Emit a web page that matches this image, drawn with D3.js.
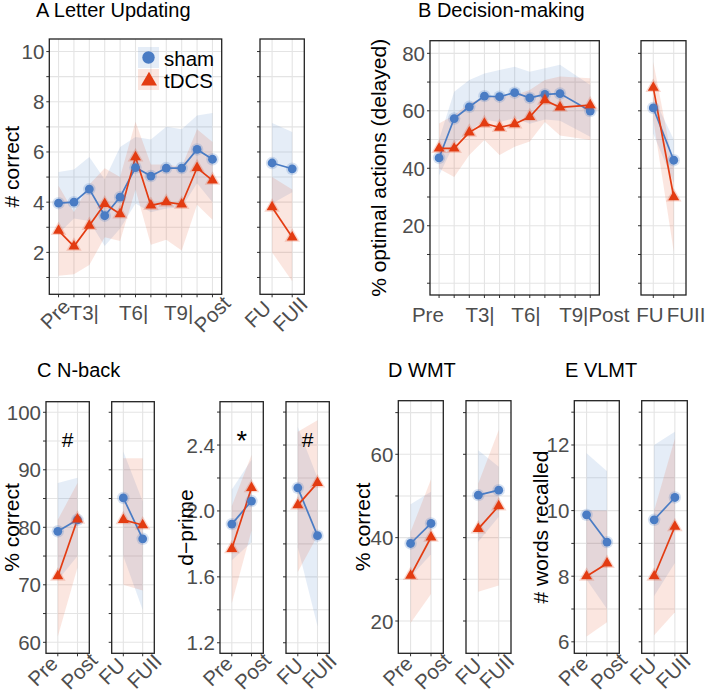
<!DOCTYPE html>
<html lang="en">
<head>
<meta charset="UTF-8">
<title>tDCS training outcomes</title>
<style>
  body, html { margin: 0; padding: 0; background: #fff; }
  svg { display: block; font-family: "Liberation Sans", Arial, sans-serif; }
  .grid line { stroke: #e4e4e4; stroke-width: 1.1px; }
  .frame { fill: none; stroke: #222; stroke-width: 1.3px; }
  .tick-mark { stroke: #333; stroke-width: 1px; }
  .tick-label { fill: #4d4d4d; font-size: 20.5px; }
  .axis-title { fill: #000; font-size: 21px; }
  .panel-title { fill: #000; font-size: 20px; }
  .sig { fill: #000; font-size: 21px; }
  .legend-text { fill: #000; font-size: 20.5px; }
</style>
</head>
<body>
<svg width="708" height="693"></svg>
<script src="https://d3js.org/d3.v7.min.js"></script>
<script>
// ---- categories ----
const trainCats = ["Pre", "T1", "T2", "T3", "T4", "T5", "T6", "T7", "T8", "T9", "Post"];
const prePostCats = ["Pre", "Post"];
const fuCats = ["FU", "FUII"];

// ---- A Letter Updating (# correct) ----
const letterSham   = [3.96, 4.00, 4.52, 3.46, 4.20, 5.38, 5.04, 5.36, 5.36, 6.10, 5.71];
const letterShamLo = [2.75, 3.35, 3.25, 2.25, 2.95, 3.95, 3.60, 3.75, 3.80, 4.75, 4.00];
const letterShamHi = [5.20, 5.30, 5.80, 4.90, 6.20, 6.60, 6.50, 7.00, 6.90, 7.45, 7.55];
const letterTdcs   = [2.87, 2.24, 3.07, 3.93, 3.53, 5.80, 3.87, 4.00, 3.91, 5.37, 4.87];
const letterTdcsLo = [1.07, 1.13, 1.50, 2.60, 2.45, 4.50, 2.30, 2.50, 2.07, 3.90, 3.30];
const letterTdcsHi = [4.65, 3.60, 4.70, 5.35, 5.00, 7.20, 5.50, 5.50, 5.40, 6.90, 6.40];
const letterFuSham   = [5.56, 5.33];
const letterFuShamLo = [3.95, 4.40];
const letterFuShamHi = [7.15, 6.80];
const letterFuTdcs   = [3.80, 2.60];
const letterFuTdcsLo = [2.00, 0.85];
const letterFuTdcsHi = [5.00, 4.50];

// ---- B Decision-making (% optimal actions, delayed); no value at T9 ----
const decSham   = [43.6, 57.3, 61.4, 65.1, 64.9, 66.3, 64.5, 65.7, 66.0, null, 59.9];
const decShamLo = [37.5, 48.5, 52.5, 57.0, 56.0, 57.5, 55.5, 57.0, 56.5, null, 51.0];
const decShamHi = [50.0, 66.6, 70.7, 73.0, 74.2, 75.3, 73.6, 74.8, 76.0, null, 69.0];
const decTdcs   = [46.9, 46.9, 52.5, 55.6, 54.2, 55.4, 57.9, 63.7, 61.2, null, 62.0];
const decTdcsLo = [39.8, 37.0, 44.6, 49.8, 44.6, 47.5, 49.3, 56.1, 51.4, null, 49.8];
const decTdcsHi = [55.6, 58.5, 62.6, 64.9, 64.9, 65.5, 67.2, 70.7, 71.9, null, 71.3];
const decFuSham   = [61.0, 42.8];
const decFuShamLo = [52.0, 35.0];
const decFuShamHi = [65.0, 50.0];
const decFuTdcs   = [68.1, 30.0];
const decFuTdcsLo = [57.0, 11.0];
const decFuTdcsHi = [77.0, 40.0];

// ---- C N-back: % correct ----
const nbAccSham   = [79.3, 81.3];
const nbAccShamLo = [70.8, 75.0];
const nbAccShamHi = [87.7, 88.6];
const nbAccTdcs   = [71.5, 81.4];
const nbAccTdcsLo = [61.0, 73.0];
const nbAccTdcsHi = [81.3, 87.7];
const nbAccFuSham   = [85.1, 78.0];
const nbAccFuShamLo = [75.0, 65.6];
const nbAccFuShamHi = [93.2, 84.5];
const nbAccFuTdcs   = [81.3, 80.4];
const nbAccFuTdcsLo = [70.0, 69.0];
const nbAccFuTdcsHi = [92.0, 92.0];

// ---- C N-back: d-prime ----
const nbDpSham   = [1.92, 2.06];
const nbDpShamLo = [1.70, 1.81];
const nbDpShamHi = [2.13, 2.31];
const nbDpTdcs   = [1.77, 2.14];
const nbDpTdcsLo = [1.44, 1.88];
const nbDpTdcsHi = [2.03, 2.34];
const nbDpFuSham   = [2.14, 1.85];
const nbDpFuShamLo = [1.78, 1.30];
const nbDpFuShamHi = [2.51, 2.20];
const nbDpFuTdcs   = [2.035, 2.17];
const nbDpFuTdcsLo = [1.63, 1.85];
const nbDpFuTdcsHi = [2.48, 2.55];

// ---- D WMT (% correct) ----
const wmtSham   = [38.6, 43.4];
const wmtShamLo = [30.6, 36.0];
const wmtShamHi = [48.0, 51.0];
const wmtTdcs   = [30.9, 40.1];
const wmtTdcsLo = [19.5, 26.5];
const wmtTdcsHi = [41.4, 54.0];
const wmtFuSham   = [50.2, 51.4];
const wmtFuShamLo = [39.0, 45.0];
const wmtFuShamHi = [61.0, 57.0];
const wmtFuTdcs   = [42.1, 47.6];
const wmtFuTdcsLo = [27.0, 28.5];
const wmtFuTdcsHi = [53.0, 65.8];

// ---- E VLMT (# words recalled) ----
const vlmtSham   = [9.87, 9.04];
const vlmtShamLo = [7.90, 7.00];
const vlmtShamHi = [11.75, 11.20];
const vlmtTdcs   = [8.00, 8.39];
const vlmtTdcsLo = [6.16, 6.60];
const vlmtTdcsHi = [10.00, 10.00];
const vlmtFuSham   = [9.72, 10.40];
const vlmtFuShamLo = [7.40, 8.40];
const vlmtFuShamHi = [12.00, 12.40];
const vlmtFuTdcs   = [8.00, 9.51];
const vlmtFuTdcsLo = [6.20, 6.90];
const vlmtFuTdcsHi = [10.00, 12.20];

// ---- y ticks (labelled) and grid lines ----
const letterTicks = [2, 4, 6, 8, 10];
const letterGrid  = [1, 2, 3, 4, 5, 6, 7, 8, 9, 10];
const decTicks = [20, 40, 60, 80];
const decGrid  = [0, 10, 20, 30, 40, 50, 60, 70, 80];
const accTicks = [60, 70, 80, 90, 100];
const accGrid  = [60, 65, 70, 75, 80, 85, 90, 95, 100];
const dpTicks = [1.2, 1.6, 2.0, 2.4];
const dpGrid  = [1.2, 1.4, 1.6, 1.8, 2.0, 2.2, 2.4, 2.6];
const wmtTicks = [20, 40, 60];
const wmtGrid  = [20, 30, 40, 50, 60, 70];
const vlmtTicks = [6, 8, 10, 12];
const vlmtGrid  = [6, 7, 8, 9, 10, 11, 12, 13];

const seriesNames = ["sham", "tDCS"];
const colors = { sham: "#4a7cc4", tDCS: "#e33c12" };
const ribbonFill = { sham: "rgba(74,124,196,0.14)", tDCS: "rgba(227,60,18,0.13)" };

const svg = d3.select("svg");
const defs = svg.append("defs");
let clipId = 0;

function series(m, lo, hi) { return { m, lo, hi }; }

function drawPanel(p) {
  const x = d3.scalePoint().domain(p.cats).range([p.x0, p.x1]).padding(0.6);
  const y = d3.scaleLinear().domain(p.yDomain).range([p.y1, p.y0]);
  const g = svg.append("g");

  const cid = "clip" + (clipId++);
  defs.append("clipPath").attr("id", cid).append("rect")
    .attr("x", p.x0).attr("y", p.y0).attr("width", p.x1 - p.x0).attr("height", p.y1 - p.y0);

  // grid
  const grid = g.append("g").attr("class", "grid");
  grid.selectAll("line.h").data(p.grid).join("line").attr("class", "h")
    .attr("x1", p.x0).attr("x2", p.x1)
    .attr("y1", d => y(d)).attr("y2", d => y(d));
  grid.selectAll("line.v").data(p.cats).join("line").attr("class", "v")
    .attr("x1", d => x(d)).attr("x2", d => x(d))
    .attr("y1", p.y0).attr("y2", p.y1);

  // tick marks
  g.selectAll("line.yt").data(p.grid).join("line").attr("class", "tick-mark")
    .attr("x1", p.x0 - 3).attr("x2", p.x0)
    .attr("y1", d => y(d)).attr("y2", d => y(d));
  g.selectAll("line.xt").data(p.cats).join("line").attr("class", "tick-mark")
    .attr("x1", d => x(d)).attr("x2", d => x(d))
    .attr("y1", p.y1).attr("y2", p.y1 + 3);

  // y labels
  if (p.ticks) {
    g.selectAll("text.yl").data(p.ticks).join("text").attr("class", "tick-label")
      .attr("x", p.x0 - 5).attr("y", d => y(d))
      .attr("text-anchor", "end").attr("dominant-baseline", "central")
      .text(p.fmt);
  }

  // x labels (placed at fractional category positions)
  const x0pos = x(p.cats[0]), step = x.step();
  p.xlabels.forEach(l => {
    const cx = x0pos + l.at * step;
    const t = g.append("text").attr("class", "tick-label").text(l.t);
    if (l.rot) {
      t.attr("text-anchor", "middle").attr("dominant-baseline", "central")
        .attr("transform", `translate(${cx},${p.rotY}) rotate(-45)`);
    } else {
      t.attr("text-anchor", "middle").attr("x", cx).attr("y", p.flatY);
    }
  });

  const rows = seriesNames.map(name => {
    const s = p.data[name];
    return {
      name,
      pts: p.cats.map((c, i) => ({ c, m: s.m[i], lo: s.lo[i], hi: s.hi[i] }))
        .filter(d => d.m != null)
    };
  });

  const area = d3.area().x(d => x(d.c)).y0(d => y(d.lo)).y1(d => y(d.hi));
  const line = d3.line().x(d => x(d.c)).y(d => y(d.m));
  const inner = g.append("g").attr("clip-path", `url(#${cid})`);

  inner.selectAll("path.rib").data(rows).join("path")
    .attr("d", d => area(d.pts)).attr("fill", d => ribbonFill[d.name]);
  inner.selectAll("path.ln").data(rows).join("path")
    .attr("d", d => line(d.pts)).attr("fill", "none")
    .attr("stroke", d => colors[d.name]).attr("stroke-width", 1.7);

  rows.forEach(r => {
    const pg = inner.append("g");
    if (r.name === "sham") {
      pg.selectAll("circle.halo").data(r.pts).join("circle")
        .attr("cx", d => x(d.c)).attr("cy", d => y(d.m)).attr("r", 6.2)
        .attr("fill", colors.sham).attr("opacity", 0.22);
      pg.selectAll("circle.pt").data(r.pts).join("circle")
        .attr("cx", d => x(d.c)).attr("cy", d => y(d.m)).attr("r", 4.4)
        .attr("fill", colors.sham);
    } else {
      const big = d3.symbol(d3.symbolTriangle, 105)();
      const small = d3.symbol(d3.symbolTriangle, 52)();
      pg.selectAll("path.halo").data(r.pts).join("path")
        .attr("d", big).attr("transform", d => `translate(${x(d.c)},${y(d.m)})`)
        .attr("fill", colors.tDCS).attr("opacity", 0.2);
      pg.selectAll("path.pt").data(r.pts).join("path")
        .attr("d", small).attr("transform", d => `translate(${x(d.c)},${y(d.m)})`)
        .attr("fill", colors.tDCS);
    }
  });

  // significance marks
  (p.sig || []).forEach(s => {
    g.append("text").attr("class", "sig").attr("text-anchor", "middle")
      .style("font-size", s.size ? s.size + "px" : null)
      .attr("x", (x(p.cats[0]) + x(p.cats[1])) / 2).attr("y", y(s.v)).text(s.t);
  });

  g.append("rect").attr("class", "frame")
    .attr("x", p.x0).attr("y", p.y0).attr("width", p.x1 - p.x0).attr("height", p.y1 - p.y0);

  if (p.title) {
    g.append("text").attr("class", "axis-title")
      .attr("text-anchor", "middle").attr("dominant-baseline", "central")
      .attr("transform", `translate(${p.titleX},${(p.y0 + p.y1) / 2}) rotate(-90)`)
      .text(p.title);
  }
  return { x, y };
}

const fInt = d3.format("d"), f1 = d3.format(".1f");

// ---- A ----
drawPanel({
  cats: trainCats, x0: 49.3, x1: 221.7, y0: 39, y1: 294.3, yDomain: [0.33, 10.5],
  grid: letterGrid, ticks: letterTicks, fmt: fInt, title: "# correct", titleX: 11,
  data: { sham: series(letterSham, letterShamLo, letterShamHi), tDCS: series(letterTdcs, letterTdcsLo, letterTdcsHi) },
  rotY: 314, flatY: 320,
  xlabels: [{ t: "Pre", at: -0.23, rot: true }, { t: "T3|", at: 1.67 }, { t: "T6|", at: 4.88 },
            { t: "T9|", at: 7.8 }, { t: "Post", at: 9.97, rot: true }]
});
drawPanel({
  cats: fuCats, x0: 260, x1: 304.3, y0: 39, y1: 294.3, yDomain: [0.33, 10.5],
  grid: letterGrid,
  data: { sham: series(letterFuSham, letterFuShamLo, letterFuShamHi), tDCS: series(letterFuTdcs, letterFuTdcsLo, letterFuTdcsHi) },
  rotY: 314,
  xlabels: [{ t: "FU", at: -0.72, rot: true }, { t: "FUII", at: 0.89, rot: true }]
});

// ---- B ----
drawPanel({
  cats: trainCats, x0: 430, x1: 599.3, y0: 40.7, y1: 295, yDomain: [-4.1, 84.4],
  grid: decGrid, ticks: decTicks, fmt: fInt, title: "% optimal actions (delayed)", titleX: 378,
  data: { sham: series(decSham, decShamLo, decShamHi), tDCS: series(decTdcs, decTdcsLo, decTdcsHi) },
  flatY: 321.7,
  xlabels: [{ t: "Pre", at: -0.74 }, { t: "T3|", at: 2.71 }, { t: "T6|", at: 5.75 }, { t: "T9|Post", at: 10.27 }]
});
drawPanel({
  cats: fuCats, x0: 641, x1: 686, y0: 40.7, y1: 295, yDomain: [-4.1, 84.4],
  grid: decGrid,
  data: { sham: series(decFuSham, decFuShamLo, decFuShamHi), tDCS: series(decFuTdcs, decFuTdcsLo, decFuTdcsHi) },
  flatY: 321.7,
  xlabels: [{ t: "FU", at: -0.16 }, { t: "FUII", at: 1.6 }]
});

// ---- C ----
drawPanel({
  cats: prePostCats, x0: 46, x1: 89.3, y0: 401.7, y1: 653.3, yDomain: [58.09, 101.84],
  grid: accGrid, ticks: accTicks, fmt: fInt, title: "% correct", titleX: 11.5,
  data: { sham: series(nbAccSham, nbAccShamLo, nbAccShamHi), tDCS: series(nbAccTdcs, nbAccTdcsLo, nbAccTdcsHi) },
  rotY: 671, sig: [{ t: "#", v: 93.97 }],
  xlabels: [{ t: "Pre", at: -0.78, rot: true }, { t: "Post", at: 1.08, rot: true }]
});
drawPanel({
  cats: fuCats, x0: 111.7, x1: 154.3, y0: 401.7, y1: 653.3, yDomain: [58.09, 101.84],
  grid: accGrid,
  data: { sham: series(nbAccFuSham, nbAccFuShamLo, nbAccFuShamHi), tDCS: series(nbAccFuTdcs, nbAccFuTdcsLo, nbAccFuTdcsHi) },
  rotY: 671,
  xlabels: [{ t: "FU", at: -0.61, rot: true }, { t: "FUII", at: 1.07, rot: true }]
});
drawPanel({
  cats: prePostCats, x0: 220, x1: 263.3, y0: 401.7, y1: 653.3, yDomain: [1.136, 2.663],
  grid: dpGrid, ticks: dpTicks, fmt: f1, title: "d\u2212prime", titleX: 185,
  data: { sham: series(nbDpSham, nbDpShamLo, nbDpShamHi), tDCS: series(nbDpTdcs, nbDpTdcsLo, nbDpTdcsHi) },
  rotY: 671, sig: [{ t: "*", v: 2.368, size: 27 }],
  xlabels: [{ t: "Pre", at: -0.73, rot: true }, { t: "Post", at: 1.05, rot: true }]
});
drawPanel({
  cats: fuCats, x0: 286, x1: 329.3, y0: 401.7, y1: 653.3, yDomain: [1.136, 2.663],
  grid: dpGrid,
  data: { sham: series(nbDpFuSham, nbDpFuShamLo, nbDpFuShamHi), tDCS: series(nbDpFuTdcs, nbDpFuTdcsLo, nbDpFuTdcsHi) },
  rotY: 671, sig: [{ t: "#", v: 2.388 }],
  xlabels: [{ t: "FU", at: -0.42, rot: true }, { t: "FUII", at: 1.08, rot: true }]
});

// ---- D ----
drawPanel({
  cats: prePostCats, x0: 398.3, x1: 443.3, y0: 400.7, y1: 653.3, yDomain: [12.25, 72.86],
  grid: wmtGrid, ticks: wmtTicks, fmt: fInt, title: "% correct", titleX: 362,
  data: { sham: series(wmtSham, wmtShamLo, wmtShamHi), tDCS: series(wmtTdcs, wmtTdcsLo, wmtTdcsHi) },
  rotY: 671,
  xlabels: [{ t: "Pre", at: -0.64, rot: true }, { t: "Post", at: 1.07, rot: true }]
});
drawPanel({
  cats: fuCats, x0: 466, x1: 511, y0: 400.7, y1: 653.3, yDomain: [12.25, 72.86],
  grid: wmtGrid,
  data: { sham: series(wmtFuSham, wmtFuShamLo, wmtFuShamHi), tDCS: series(wmtFuTdcs, wmtFuTdcsLo, wmtFuTdcsHi) },
  rotY: 671,
  xlabels: [{ t: "FU", at: -0.5, rot: true }, { t: "FUII", at: 0.89, rot: true }]
});

// ---- E ----
drawPanel({
  cats: prePostCats, x0: 574.3, x1: 619.3, y0: 400.7, y1: 653.3, yDomain: [5.65, 13.35],
  grid: vlmtGrid, ticks: vlmtTicks, fmt: fInt, title: "# words recalled", titleX: 540,
  data: { sham: series(vlmtSham, vlmtShamLo, vlmtShamHi), tDCS: series(vlmtTdcs, vlmtTdcsLo, vlmtTdcsHi) },
  rotY: 671,
  xlabels: [{ t: "Pre", at: -0.66, rot: true }, { t: "Post", at: 1.07, rot: true }]
});
drawPanel({
  cats: fuCats, x0: 641.7, x1: 687.3, y0: 400.7, y1: 653.3, yDomain: [5.65, 13.35],
  grid: vlmtGrid,
  data: { sham: series(vlmtFuSham, vlmtFuShamLo, vlmtFuShamHi), tDCS: series(vlmtFuTdcs, vlmtFuTdcsLo, vlmtFuTdcsHi) },
  rotY: 671,
  xlabels: [{ t: "FU", at: -0.54, rot: true }, { t: "FUII", at: 0.91, rot: true }]
});

// ---- panel titles ----
const titles = [
  { t: "A Letter Updating", x: 36, y: 16.5 },
  { t: "B Decision-making", x: 418, y: 16.5 },
  { t: "C N-back", x: 37, y: 377 },
  { t: "D WMT", x: 388, y: 377 },
  { t: "E VLMT", x: 565, y: 377 }
];
svg.selectAll("text.panel-title").data(titles).join("text").attr("class", "panel-title")
  .attr("x", d => d.x).attr("y", d => d.y).text(d => d.t);

// ---- legend (inside panel A) ----
const leg = svg.append("g").attr("transform", "translate(138,47)");
seriesNames.forEach((name, i) => {
  const row = leg.append("g").attr("transform", `translate(0,${i * 22})`);
  row.append("rect").attr("width", 21).attr("height", 21).attr("fill", ribbonFill[name]);
  if (name === "sham") {
    row.append("circle").attr("cx", 10.5).attr("cy", 10.5).attr("r", 6.2).attr("fill", colors.sham);
  } else {
    row.append("path").attr("d", d3.symbol(d3.symbolTriangle, 110)())
      .attr("transform", "translate(11,12)").attr("fill", colors.tDCS);
  }
  row.append("text").attr("class", "legend-text").attr("x", 26).attr("y", 18.5).text(name);
});
</script>
</body>
</html>
